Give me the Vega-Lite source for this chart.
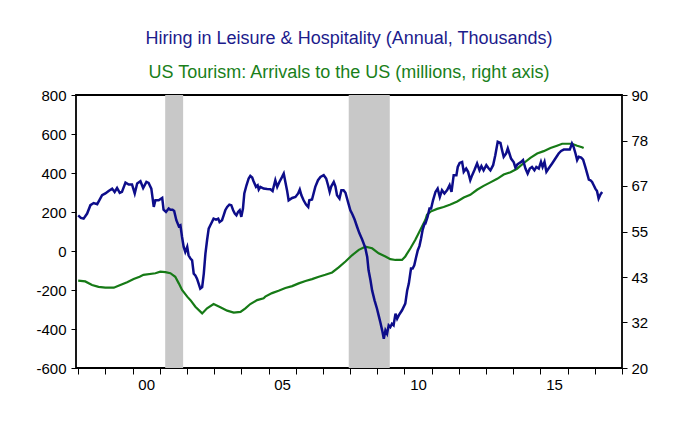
{
"$schema": "https://vega.github.io/schema/vega-lite/v6.json",
"width": 546, "height": 273,
"autosize": {"type": "none"},
"padding": {"left": 76, "top": 95, "right": 78, "bottom": 53},
"background": "white",
"title": {"text": "Hiring in Leisure & Hospitality (Annual, Thousands)", "subtitle": "US Tourism: Arrivals to the US (millions, right axis)", "color": "#1c1c8c", "subtitleColor": "#1a7f1a", "fontSize": 18, "subtitleFontSize": 18, "font": "Liberation Sans", "subtitleFont": "Liberation Sans", "fontWeight": "normal", "subtitlePadding": 16, "offset": 6, "anchor": "middle"},
"config": {"view": {"stroke": "black", "strokeWidth": 1.8}, "axis": {"grid": false, "domain": false, "tickColor": "black", "labelColor": "black", "labelFont": "Liberation Sans", "labelFontSize": 15}},
"datasets": {
"rec": [{"start": 2001.2, "end": 2001.86}, {"start": 2007.95, "end": 2009.46}],
"hiring": [
{"year":1998.00,"hires":183},{"year":1998.10,"hires":170},{"year":1998.20,"hires":166},{"year":1998.33,"hires":192},{"year":1998.45,"hires":235},{"year":1998.57,"hires":246},{"year":1998.70,"hires":240},{"year":1998.88,"hires":286},{"year":1999.00,"hires":295},{"year":1999.12,"hires":308},{"year":1999.25,"hires":320},{"year":1999.34,"hires":303},{"year":1999.43,"hires":323},{"year":1999.53,"hires":298},{"year":1999.61,"hires":303},{"year":1999.74,"hires":351},{"year":1999.86,"hires":341},{"year":1999.98,"hires":341},
{"year":2000.08,"hires":295},{"year":2000.17,"hires":346},{"year":2000.29,"hires":358},{"year":2000.39,"hires":323},{"year":2000.51,"hires":354},{"year":2000.59,"hires":349},{"year":2000.69,"hires":320},{"year":2000.78,"hires":226},{"year":2000.84,"hires":260},{"year":2000.96,"hires":260},
{"year":2001.09,"hires":272},{"year":2001.14,"hires":212},{"year":2001.23,"hires":200},{"year":2001.33,"hires":218},{"year":2001.39,"hires":212},{"year":2001.47,"hires":212},{"year":2001.53,"hires":205},{"year":2001.61,"hires":158},{"year":2001.70,"hires":127},{"year":2001.76,"hires":132},{"year":2001.82,"hires":72},{"year":2001.88,"hires":21},{"year":2001.94,"hires":-5},
{"year":2002.01,"hires":21},{"year":2002.06,"hires":-22},{"year":2002.13,"hires":-39},{"year":2002.19,"hires":-48},{"year":2002.25,"hires":-116},{"year":2002.31,"hires":-125},{"year":2002.37,"hires":-142},{"year":2002.43,"hires":-167},{"year":2002.49,"hires":-193},{"year":2002.56,"hires":-185},{"year":2002.62,"hires":-116},{"year":2002.68,"hires":-13},{"year":2002.74,"hires":55},{"year":2002.80,"hires":115},{"year":2002.86,"hires":132},{"year":2002.92,"hires":149},{"year":2002.98,"hires":166},
{"year":2003.07,"hires":161},{"year":2003.15,"hires":166},{"year":2003.20,"hires":149},{"year":2003.29,"hires":158},{"year":2003.35,"hires":183},{"year":2003.41,"hires":209},{"year":2003.48,"hires":226},{"year":2003.56,"hires":238},{"year":2003.63,"hires":235},{"year":2003.70,"hires":209},{"year":2003.76,"hires":192},{"year":2003.82,"hires":183},{"year":2003.88,"hires":200},{"year":2003.94,"hires":209},
{"year":2004.00,"hires":175},{"year":2004.06,"hires":218},{"year":2004.11,"hires":295},{"year":2004.19,"hires":337},{"year":2004.27,"hires":372},{"year":2004.33,"hires":385},{"year":2004.40,"hires":377},{"year":2004.45,"hires":358},{"year":2004.54,"hires":329},{"year":2004.60,"hires":337},{"year":2004.64,"hires":315},{"year":2004.70,"hires":329},{"year":2004.82,"hires":320},{"year":2004.95,"hires":318},
{"year":2005.07,"hires":317},{"year":2005.15,"hires":308},{"year":2005.25,"hires":363},{"year":2005.32,"hires":329},{"year":2005.40,"hires":354},{"year":2005.50,"hires":380},{"year":2005.56,"hires":397},{"year":2005.62,"hires":354},{"year":2005.68,"hires":312},{"year":2005.74,"hires":260},{"year":2005.87,"hires":272},{"year":2005.99,"hires":277},
{"year":2006.09,"hires":295},{"year":2006.15,"hires":315},{"year":2006.21,"hires":286},{"year":2006.29,"hires":260},{"year":2006.38,"hires":238},{"year":2006.46,"hires":226},{"year":2006.50,"hires":260},{"year":2006.60,"hires":264},{"year":2006.72,"hires":329},{"year":2006.82,"hires":363},{"year":2006.91,"hires":380},
{"year":2007.03,"hires":389},{"year":2007.12,"hires":372},{"year":2007.19,"hires":337},{"year":2007.25,"hires":303},{"year":2007.31,"hires":332},{"year":2007.40,"hires":354},{"year":2007.46,"hires":332},{"year":2007.52,"hires":286},{"year":2007.61,"hires":269},{"year":2007.68,"hires":312},{"year":2007.76,"hires":312},{"year":2007.83,"hires":299},{"year":2007.93,"hires":248},
{"year":2008.01,"hires":209},{"year":2008.07,"hires":192},{"year":2008.10,"hires":183},{"year":2008.17,"hires":160},{"year":2008.26,"hires":123},{"year":2008.34,"hires":92},{"year":2008.44,"hires":60},{"year":2008.56,"hires":16},{"year":2008.63,"hires":-31},{"year":2008.68,"hires":-99},{"year":2008.75,"hires":-150},{"year":2008.81,"hires":-202},{"year":2008.90,"hires":-253},{"year":2008.99,"hires":-296},
{"year":2009.05,"hires":-330},{"year":2009.11,"hires":-364},{"year":2009.18,"hires":-407},{"year":2009.24,"hires":-450},{"year":2009.30,"hires":-407},{"year":2009.36,"hires":-424},{"year":2009.42,"hires":-381},{"year":2009.48,"hires":-390},{"year":2009.54,"hires":-373},{"year":2009.60,"hires":-381},{"year":2009.67,"hires":-321},{"year":2009.73,"hires":-347},{"year":2009.79,"hires":-330},{"year":2009.91,"hires":-304},
{"year":2010.03,"hires":-270},{"year":2010.10,"hires":-202},{"year":2010.16,"hires":-167},{"year":2010.24,"hires":-90},{"year":2010.30,"hires":-90},{"year":2010.36,"hires":-73},{"year":2010.43,"hires":-31},{"year":2010.49,"hires":4},{"year":2010.55,"hires":25},{"year":2010.61,"hires":64},{"year":2010.67,"hires":110},{"year":2010.74,"hires":141},{"year":2010.77,"hires":141},{"year":2010.85,"hires":175},{"year":2010.92,"hires":218},{"year":2010.98,"hires":218},
{"year":2011.05,"hires":260},{"year":2011.14,"hires":303},{"year":2011.22,"hires":320},{"year":2011.30,"hires":277},{"year":2011.38,"hires":312},{"year":2011.47,"hires":295},{"year":2011.57,"hires":312},{"year":2011.66,"hires":337},{"year":2011.73,"hires":303},{"year":2011.81,"hires":389},{"year":2011.91,"hires":389},{"year":2011.96,"hires":431},
{"year":2012.03,"hires":452},{"year":2012.12,"hires":457},{"year":2012.18,"hires":406},{"year":2012.27,"hires":423},{"year":2012.34,"hires":406},{"year":2012.42,"hires":363},{"year":2012.49,"hires":389},{"year":2012.57,"hires":414},{"year":2012.67,"hires":449},{"year":2012.76,"hires":414},{"year":2012.83,"hires":435},{"year":2012.91,"hires":414},
{"year":2013.01,"hires":440},{"year":2013.10,"hires":423},{"year":2013.16,"hires":414},{"year":2013.26,"hires":440},{"year":2013.34,"hires":491},{"year":2013.43,"hires":560},{"year":2013.53,"hires":554},{"year":2013.59,"hires":517},{"year":2013.65,"hires":483},{"year":2013.74,"hires":500},{"year":2013.80,"hires":526},{"year":2013.86,"hires":500},{"year":2013.92,"hires":474},
{"year":2014.02,"hires":455},{"year":2014.08,"hires":428},{"year":2014.16,"hires":445},{"year":2014.20,"hires":449},{"year":2014.29,"hires":457},{"year":2014.36,"hires":466},{"year":2014.45,"hires":423},{"year":2014.53,"hires":397},{"year":2014.61,"hires":423},{"year":2014.69,"hires":431},{"year":2014.78,"hires":414},{"year":2014.85,"hires":431},{"year":2014.94,"hires":423},
{"year":2015.02,"hires":457},{"year":2015.08,"hires":431},{"year":2015.15,"hires":457},{"year":2015.22,"hires":406},{"year":2015.30,"hires":423},{"year":2015.43,"hires":449},{"year":2015.55,"hires":474},{"year":2015.67,"hires":500},{"year":2015.76,"hires":513},{"year":2015.86,"hires":520},{"year":2015.98,"hires":520},
{"year":2016.08,"hires":520},{"year":2016.16,"hires":551},{"year":2016.22,"hires":534},{"year":2016.29,"hires":500},{"year":2016.35,"hires":466},{"year":2016.41,"hires":483},{"year":2016.50,"hires":479},{"year":2016.57,"hires":469},{"year":2016.65,"hires":431},{"year":2016.72,"hires":397},{"year":2016.78,"hires":366},{"year":2016.84,"hires":363},{"year":2016.90,"hires":354},{"year":2016.96,"hires":337},
{"year":2017.02,"hires":320},{"year":2017.08,"hires":308},{"year":2017.14,"hires":269},{"year":2017.21,"hires":291},{"year":2017.27,"hires":303}
],
"tourism": [
{"year":1998.00,"arrivals":42.4},{"year":1998.26,"arrivals":42.2},{"year":1998.51,"arrivals":41.3},{"year":1998.75,"arrivals":40.8},{"year":1999.00,"arrivals":40.6},{"year":1999.31,"arrivals":40.6},{"year":1999.55,"arrivals":41.3},{"year":1999.80,"arrivals":42.0},
{"year":2000.04,"arrivals":42.8},{"year":2000.26,"arrivals":43.4},{"year":2000.40,"arrivals":43.9},{"year":2000.84,"arrivals":44.3},{"year":2001.02,"arrivals":44.7},{"year":2001.21,"arrivals":44.6},{"year":2001.39,"arrivals":44.3},{"year":2001.57,"arrivals":43.4},{"year":2001.70,"arrivals":41.7},{"year":2001.82,"arrivals":40.0},
{"year":2002.01,"arrivals":38.3},{"year":2002.13,"arrivals":37.4},{"year":2002.31,"arrivals":35.7},{"year":2002.56,"arrivals":34.0},{"year":2002.74,"arrivals":35.3},{"year":2002.98,"arrivals":36.4},{"year":2003.23,"arrivals":35.6},{"year":2003.48,"arrivals":34.7},{"year":2003.72,"arrivals":34.2},{"year":2003.97,"arrivals":34.4},
{"year":2004.15,"arrivals":35.3},{"year":2004.33,"arrivals":36.4},{"year":2004.58,"arrivals":37.4},{"year":2004.82,"arrivals":37.9},{"year":2004.88,"arrivals":38.3},{"year":2005.13,"arrivals":39.2},{"year":2005.37,"arrivals":39.8},{"year":2005.62,"arrivals":40.5},{"year":2005.87,"arrivals":41.0},
{"year":2006.11,"arrivals":41.7},{"year":2006.36,"arrivals":42.3},{"year":2006.60,"arrivals":42.8},{"year":2006.85,"arrivals":43.4},{"year":2007.09,"arrivals":43.9},{"year":2007.34,"arrivals":44.5},{"year":2007.58,"arrivals":45.8},{"year":2007.83,"arrivals":47.3},
{"year":2008.07,"arrivals":48.9},{"year":2008.32,"arrivals":50.3},{"year":2008.56,"arrivals":51.1},{"year":2008.81,"arrivals":50.7},{"year":2009.05,"arrivals":49.4},{"year":2009.30,"arrivals":48.6},{"year":2009.48,"arrivals":47.9},{"year":2009.67,"arrivals":47.7},{"year":2009.91,"arrivals":47.7},
{"year":2010.03,"arrivals":48.6},{"year":2010.22,"arrivals":50.7},{"year":2010.40,"arrivals":52.9},{"year":2010.59,"arrivals":55.5},{"year":2010.77,"arrivals":58.0},{"year":2010.83,"arrivals":59.3},{"year":2010.96,"arrivals":60.1},
{"year":2011.20,"arrivals":60.8},{"year":2011.44,"arrivals":61.3},{"year":2011.69,"arrivals":61.9},{"year":2011.94,"arrivals":62.7},{"year":2012.18,"arrivals":63.7},{"year":2012.42,"arrivals":64.4},{"year":2012.67,"arrivals":65.7},{"year":2012.91,"arrivals":66.7},
{"year":2013.16,"arrivals":67.6},{"year":2013.41,"arrivals":68.5},{"year":2013.65,"arrivals":69.6},{"year":2013.90,"arrivals":70.2},{"year":2014.14,"arrivals":71.1},{"year":2014.38,"arrivals":72.5},{"year":2014.63,"arrivals":73.9},{"year":2014.88,"arrivals":75.0},
{"year":2015.12,"arrivals":75.6},{"year":2015.37,"arrivals":76.4},{"year":2015.61,"arrivals":77.0},{"year":2015.80,"arrivals":77.5},{"year":2015.98,"arrivals":77.5},{"year":2016.16,"arrivals":77.5},{"year":2016.35,"arrivals":77.0},{"year":2016.53,"arrivals":76.6},{"year":2016.59,"arrivals":76.4}
]
},
"layer": [
{"data": {"name": "rec"}, "mark": {"type": "rect", "color": "#c8c8c8"},
 "encoding": {
  "x": {"field": "start", "type": "quantitative", "scale": {"domain": [1997.92, 2018], "nice": false, "zero": false},
        "axis": {"orient": "bottom", "title": null, "values": [1998,1999,2000,2001,2002,2003,2004,2005,2006,2007,2008,2009,2010,2011,2012,2013,2014,2015,2016,2017,2018],
                 "labels": false, "tickSize": 6}},
  "x2": {"field": "end"}
 }},
{"mark": {"type": "rule", "color": "#808080", "strokeWidth": 1},
 "encoding": {"y": {"datum": 0, "type": "quantitative", "scale": {"domain": [-600, 800], "nice": false}, "axis": null}}},
{"data": {"name": "tourism"}, "mark": {"type": "line", "color": "#167a16", "strokeWidth": 2.2},
 "encoding": {
  "x": {"field": "year", "type": "quantitative", "axis": null},
  "y": {"field": "arrivals", "type": "quantitative", "scale": {"domain": [20, 90], "nice": false, "zero": false},
        "axis": {"orient": "right", "title": null, "values": [20, 31.6667, 43.3333, 55, 66.6667, 78.3333, 90], "format": ".0f", "tickSize": 5, "labelPadding": 4}}
 }},
{"data": {"name": "hiring"}, "mark": {"type": "line", "color": "#0d0d8a", "strokeWidth": 2.5},
 "encoding": {
  "x": {"field": "year", "type": "quantitative",
        "axis": {"orient": "bottom", "title": null, "values": [2000, 2005, 2010, 2015], "ticks": false,
                 "labelExpr": "format(datum.value % 100, '02d')", "labelOffset": 13.6, "labelPadding": 9, "labelOverlap": false, "labelFlush": false}},
  "y": {"field": "hires", "type": "quantitative", "scale": {"domain": [-600, 800], "nice": false},
        "axis": {"orient": "left", "title": null, "values": [-600, -400, -200, 0, 200, 400, 600, 800], "labelExpr": "replace(datum.label, '\u2212', '-')", "tickSize": 5, "labelPadding": 5}}
 }}
],
"resolve": {"scale": {"y": "independent"}, "axis": {"x": "independent", "y": "independent"}}
}
